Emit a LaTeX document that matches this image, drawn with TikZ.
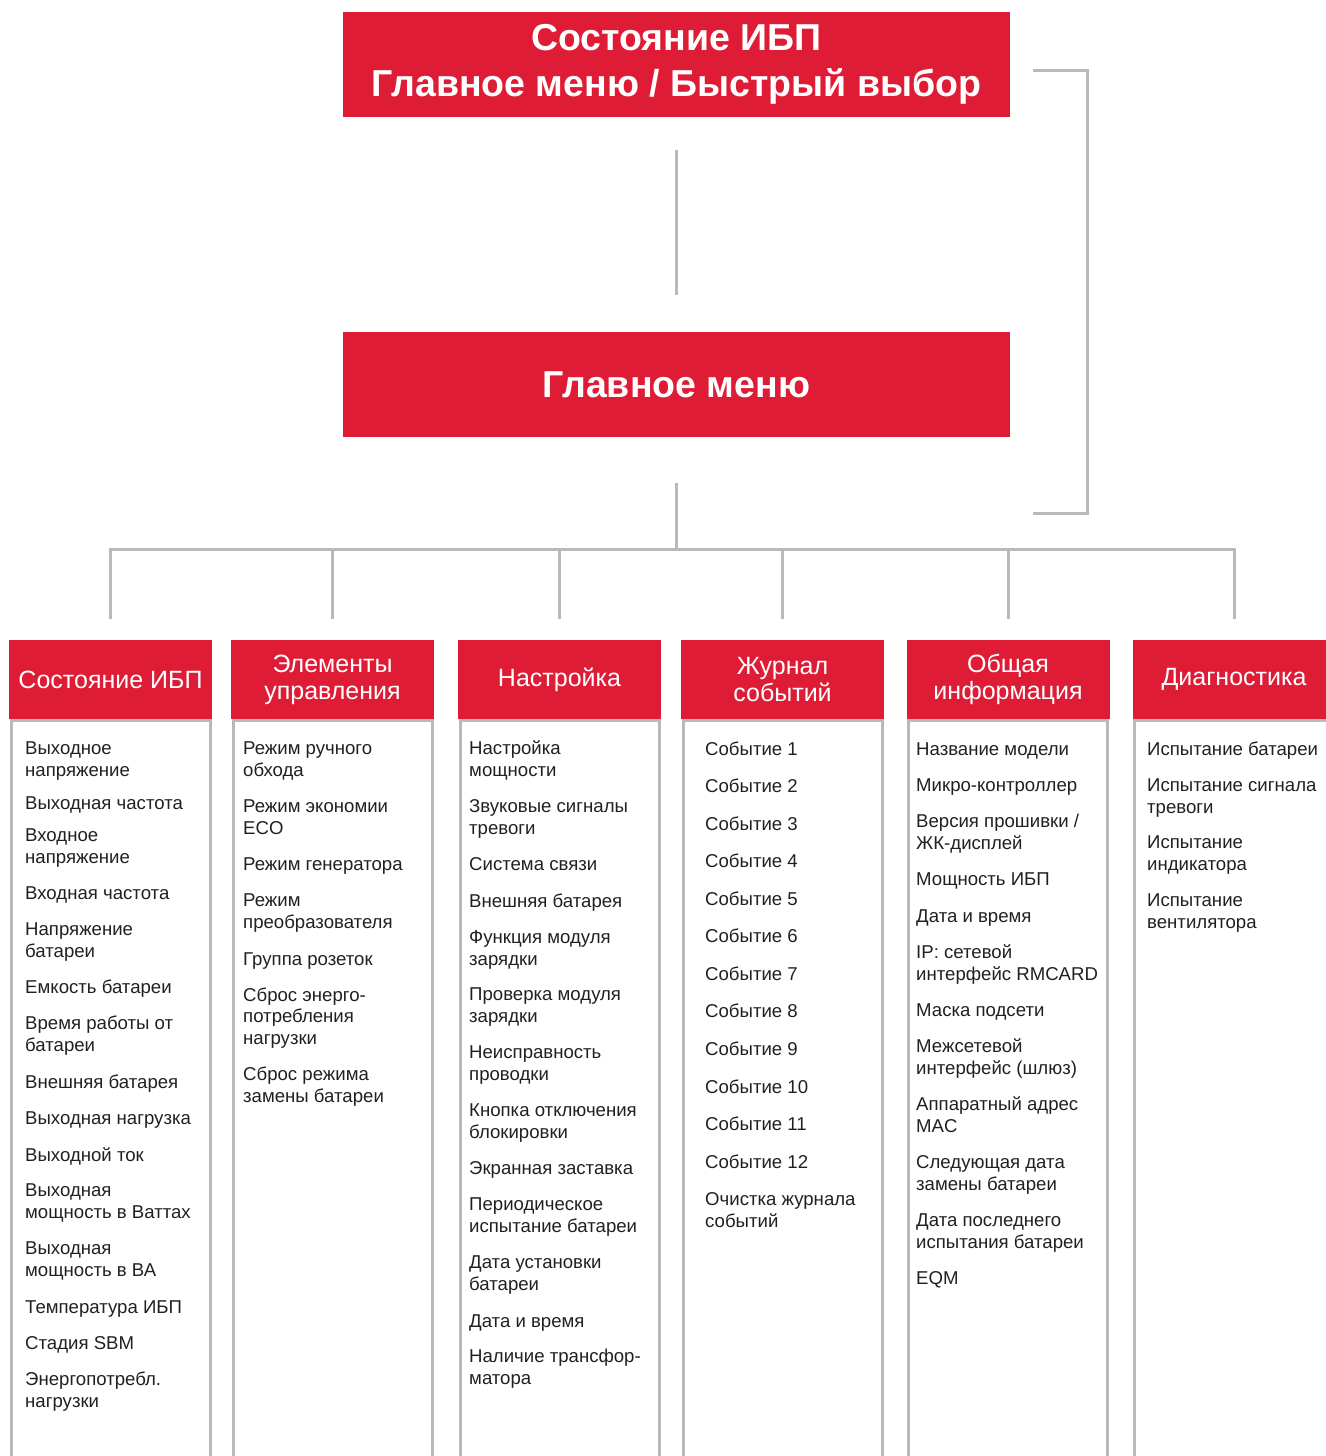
\documentclass[tikz,border=0pt]{standalone}
\usepackage{fontspec}
\setmainfont{Liberation Sans}
\definecolor{BrandRed}{HTML}{DF1C36}
\definecolor{LineGray}{HTML}{B7B9BB}
\definecolor{InkGray}{HTML}{231F20}
\usetikzlibrary{positioning}
\tikzset{
  bigbox/.style={fill=BrandRed, text=white, minimum width=667pt, minimum height=105pt, align=center, inner sep=0pt, font=\fontsize{37.5}{46}\selectfont\bfseries},
  headbox/.style={fill=BrandRed, text=white, minimum width=203pt, minimum height=79pt, align=center, inner sep=0pt, font=\fontsize{25}{27}\selectfont},
  panel/.style={draw=LineGray, line width=3pt, minimum width=199pt, minimum height=800pt, inner sep=0pt},
  item/.style={anchor=base west, align=left, inner sep=0pt, text=InkGray, font=\fontsize{18.6}{21.5}\selectfont},
  link/.style={draw=LineGray, line width=3pt}
}

\begin{document}
\begin{tikzpicture}[x=1pt, y=-1pt]
\useasboundingbox (0,0) rectangle (1325,1456);

% top level
\node[bigbox] (ups) at (676.5,64.5) {Состояние ИБП\\Главное меню / Быстрый выбор};
\node[bigbox] (mainmenu) at (676.5,384.5) {Главное меню};

% column headers
\node[headbox] (status) at (110.5,679.5) {Состояние ИБП};
\node[headbox] (controls) at (332.5,679.5) {Элементы\\управления};
\node[headbox] (setup) at (559.5,679.5) {Настройка};
\node[headbox] (eventlog) at (782.5,679.5) {Журнал\\событий};
\node[headbox] (about) at (1008,679.5) {Общая\\информация};
\node[headbox] (diag) at (1234,679.5) {Диагностика};

% column panels
\node[panel, below=0pt of status] (statuspanel) {};
\node[panel, below=0pt of controls] (controlspanel) {};
\node[panel, below=0pt of setup] (setuppanel) {};
\node[panel, below=0pt of eventlog] (eventlogpanel) {};
\node[panel, below=0pt of about] (aboutpanel) {};
\node[panel, below=0pt of diag] (diagpanel) {};

% connectors
\coordinate (hub) at (676.5,549);
\coordinate (brtop) at (1033,70);
\coordinate (brbot) at (1033,513);
\draw[link, shorten <=33pt, shorten >=37pt] (ups) -- (mainmenu);
\draw[link, shorten <=46pt] (mainmenu) -- (hub);
\draw[link, shorten >=21pt] (hub) -| (status);
\draw[link, shorten >=21pt] (hub) -| (controls);
\draw[link, shorten >=21pt] (hub) -| (setup);
\draw[link, shorten >=21pt] (hub) -| (eventlog);
\draw[link, shorten >=21pt] (hub) -| (about);
\draw[link, shorten >=21pt] (hub) -| (diag);
\draw[link] (brtop) -- ++(54,0) |- (brbot);

% status items (base = last line)
\node[item] (st1) at (25,776) {Выходное\\напряжение};
\node[item] (st2) at (25,809) {Выходная частота};
\node[item] (st3) at (25,863) {Входное\\напряжение};
\node[item] (st4) at (25,899) {Входная частота};
\node[item] (st5) at (25,957) {Напряжение\\батареи};
\node[item] (st6) at (25,993) {Емкость батареи};
\node[item] (st7) at (25,1051) {Время работы от\\батареи};
\node[item] (st8) at (25,1088) {Внешняя батарея};
\node[item] (st9) at (25,1124) {Выходная нагрузка};
\node[item] (st10) at (25,1161) {Выходной ток};
\node[item] (st11) at (25,1218) {Выходная\\мощность в Ваттах};
\node[item] (st12) at (25,1276) {Выходная\\мощность в ВА};
\node[item] (st13) at (25,1313) {Температура ИБП};
\node[item] (st14) at (25,1349) {Стадия SBM};
\node[item] (st15) at (25,1407) {Энергопотребл.\\нагрузки};

% control items
\node[item] (ct1) at (243,776) {Режим ручного\\обхода};
\node[item] (ct2) at (243,834) {Режим экономии\\ECO};
\node[item] (ct3) at (243,870) {Режим генератора};
\node[item] (ct4) at (243,928) {Режим\\преобразователя};
\node[item] (ct5) at (243,965) {Группа розеток};
\node[item] (ct6) at (243,1044) {Сброс энерго-\\потребления\\нагрузки};
\node[item] (ct7) at (243,1102) {Сброс режима\\замены батареи};

% setup items
\node[item] (su1) at (469,776) {Настройка\\мощности};
\node[item] (su2) at (469,834) {Звуковые сигналы\\тревоги};
\node[item] (su3) at (469,870) {Система связи};
\node[item] (su4) at (469,907) {Внешняя батарея};
\node[item] (su5) at (469,965) {Функция модуля\\зарядки};
\node[item] (su6) at (469,1022) {Проверка модуля\\зарядки};
\node[item] (su7) at (469,1080) {Неисправность\\проводки};
\node[item] (su8) at (469,1138) {Кнопка отключения\\блокировки};
\node[item] (su9) at (469,1174) {Экранная заставка};
\node[item] (su10) at (469,1232) {Периодическое\\испытание батареи};
\node[item] (su11) at (469,1290) {Дата установки\\батареи};
\node[item] (su12) at (469,1327) {Дата и время};
\node[item] (su13) at (469,1384) {Наличие трансфор-\\матора};

% event log items
\node[item] (ev1) at (705,755) {Событие 1};
\node[item] (ev2) at (705,792) {Событие 2};
\node[item] (ev3) at (705,830) {Событие 3};
\node[item] (ev4) at (705,867) {Событие 4};
\node[item] (ev5) at (705,905) {Событие 5};
\node[item] (ev6) at (705,942) {Событие 6};
\node[item] (ev7) at (705,980) {Событие 7};
\node[item] (ev8) at (705,1017) {Событие 8};
\node[item] (ev9) at (705,1055) {Событие 9};
\node[item] (ev10) at (705,1093) {Событие 10};
\node[item] (ev11) at (705,1130) {Событие 11};
\node[item] (ev12) at (705,1168) {Событие 12};
\node[item] (ev13) at (705,1227) {Очистка журнала\\событий};

% info items
\node[item] (ab1) at (916,755) {Название модели};
\node[item] (ab2) at (916,791) {Микро-контроллер};
\node[item] (ab3) at (916,849) {Версия прошивки /\\ЖК-дисплей};
\node[item] (ab4) at (916,885) {Мощность ИБП};
\node[item] (ab5) at (916,922) {Дата и время};
\node[item] (ab6) at (916,980) {IP: сетевой\\интерфейс RMCARD};
\node[item] (ab7) at (916,1016) {Маска подсети};
\node[item] (ab8) at (916,1074) {Межсетевой\\интерфейс (шлюз)};
\node[item] (ab9) at (916,1132) {Аппаратный адрес\\MAC};
\node[item] (ab10) at (916,1190) {Следующая дата\\замены батареи};
\node[item] (ab11) at (916,1248) {Дата последнего\\испытания батареи};
\node[item] (ab12) at (916,1284) {EQM};

% diagnostics items
\node[item] (dg1) at (1147,755) {Испытание батареи};
\node[item] (dg2) at (1147,813) {Испытание сигнала\\тревоги};
\node[item] (dg3) at (1147,870) {Испытание\\индикатора};
\node[item] (dg4) at (1147,928) {Испытание\\вентилятора};
\end{tikzpicture}
\end{document}
